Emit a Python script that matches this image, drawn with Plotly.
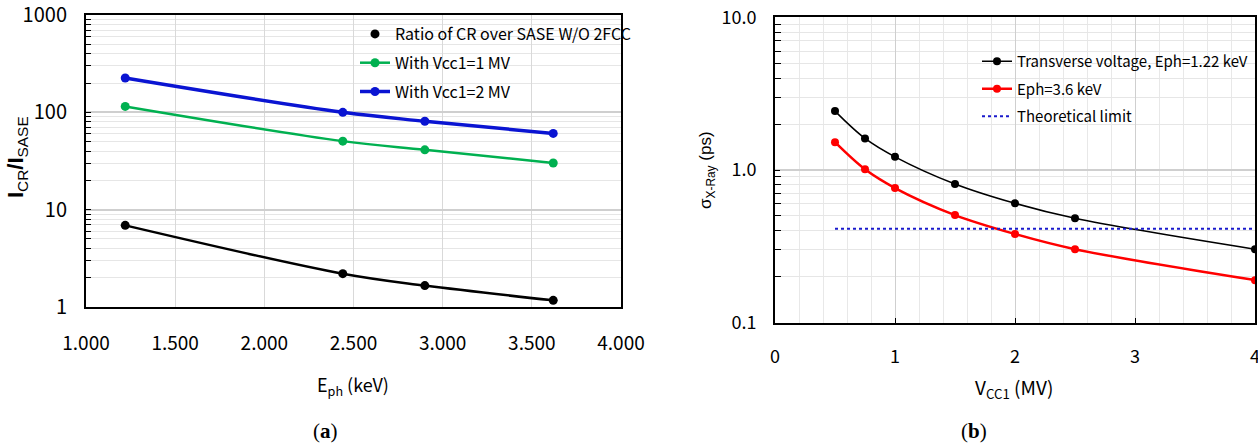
import plotly.graph_objects as go

# ---- panel (a): intensity ratio versus photon energy ----
eph_kev = [1.22, 2.44, 2.90, 3.62]
ratio_no_2fcc = [6.9, 2.2, 1.66, 1.17]
ratio_vcc1_1mv = [115, 50.6, 41.2, 30.2]
ratio_vcc1_2mv = [225, 100, 81, 60.7]

# ---- panel (b): X-ray pulse length versus crab-cavity voltage ----
vcc1_mv = [0.5, 0.75, 1.0, 1.5, 2.0, 2.5, 4.0]
sigma_eph_122 = [2.43, 1.61, 1.22, 0.81, 0.605, 0.483, 0.303]
sigma_eph_36 = [1.52, 1.01, 0.762, 0.507, 0.381, 0.303, 0.19]
limit_x = [0.5, 4.0]
limit_sigma = [0.413, 0.413]

W, H = 1258, 446
NARROW = "Noto Sans CJK SC, Lato, sans-serif"
SANS = "Liberation Sans, Arial, sans-serif"
SERIF = "Liberation Serif, Times New Roman, serif"


def px_x(p):
    return p / W


def px_y(p):
    return (H - p) / H


fig = go.Figure()

# panel (a) traces
fig.add_trace(go.Scatter(
    x=eph_kev, y=ratio_no_2fcc, mode="lines", line=dict(color="black", width=2.5, shape="spline"),
    showlegend=False, hoverinfo="skip", xaxis="x", yaxis="y"))
fig.add_trace(go.Scatter(
    x=eph_kev, y=ratio_no_2fcc, mode="markers", name="Ratio of CR over SASE W/O 2FCC",
    marker=dict(color="black", size=9), xaxis="x", yaxis="y",
    legend="legend", legendgroup="a1"))
fig.add_trace(go.Scatter(
    x=eph_kev, y=ratio_vcc1_1mv, mode="lines+markers", name="With Vcc1=1 MV",
    line=dict(color="#00b050", width=2.5, shape="spline"), marker=dict(color="#00b050", size=9),
    xaxis="x", yaxis="y", legend="legend", legendgroup="a2"))
fig.add_trace(go.Scatter(
    x=eph_kev, y=ratio_vcc1_2mv, mode="lines+markers", name="With Vcc1=2 MV",
    line=dict(color="#0a14d2", width=3.5, shape="spline"), marker=dict(color="#0a14d2", size=9),
    xaxis="x", yaxis="y", legend="legend", legendgroup="a3"))

# panel (b) traces
fig.add_trace(go.Scatter(
    x=vcc1_mv, y=sigma_eph_122, mode="lines+markers", name="Transverse voltage, Eph=1.22 keV",
    line=dict(color="black", width=1.5, shape="spline"), marker=dict(color="black", size=8),
    xaxis="x2", yaxis="y2", legend="legend2", legendgroup="b1"))
fig.add_trace(go.Scatter(
    x=vcc1_mv, y=sigma_eph_36, mode="lines+markers", name="Eph=3.6 keV",
    line=dict(color="#ff0000", width=2.5, shape="spline"), marker=dict(color="#ff0000", size=8),
    xaxis="x2", yaxis="y2", legend="legend2", legendgroup="b2"))
fig.add_trace(go.Scatter(
    x=limit_x, y=limit_sigma, mode="lines", name="Theoretical limit",
    line=dict(color="#1a1acc", width=2, dash="dot"),
    xaxis="x2", yaxis="y2", legend="legend2", legendgroup="b3"))

minor_log_a = [m * 10 ** d for d in range(0, 3) for m in range(2, 10)]
minor_log_b = [m * 10 ** d for d in (-1, 0) for m in range(2, 10)]

axis_common = dict(showline=True, linecolor="black", linewidth=2, mirror=True,
                   zeroline=False, automargin=False, ticklabeloverflow="allow")

fig.update_layout(
    width=W, height=H,
    margin=dict(l=0, r=0, t=0, b=0, autoexpand=False),
    paper_bgcolor="white", plot_bgcolor="white",
    font=dict(family=NARROW, color="black"),
    xaxis=dict(
        domain=[px_x(86), px_x(621)], anchor="y", range=[1, 4], dtick=0.5, tick0=1,
        tickformat=".3f", showgrid=True, gridcolor="#d9d9d9", gridwidth=1,
        ticks="", tickfont=dict(size=19, family=NARROW), ticklabelstandoff=18,
        **axis_common),
    yaxis=dict(
        domain=[px_y(307), px_y(15)], anchor="x", type="log", range=[0, 3],
        tickvals=[1, 10, 100, 1000], ticktext=["1", "10", "100", "1000"],
        showgrid=True, gridcolor="#cfcfcf", gridwidth=1.5,
        ticks="inside", ticklen=5, tickcolor="black",
        tickfont=dict(size=20, family=NARROW), ticklabelstandoff=13,
        minor=dict(tickvals=minor_log_a, ticks="inside", ticklen=5, tickcolor="black",
                   showgrid=True, gridcolor="#e6e6e6", gridwidth=1),
        **axis_common),
    xaxis2=dict(
        domain=[px_x(775), px_x(1255)], anchor="y2", range=[0, 4], dtick=1, tick0=0,
        showgrid=True, gridcolor="#cfcfcf", gridwidth=1,
        ticks="inside", ticklen=5, tickcolor="black",
        tickfont=dict(size=18, family=NARROW), ticklabelstandoff=17,
        minor=dict(dtick=0.2, showgrid=True, gridcolor="#e8e8e8", gridwidth=1),
        **axis_common),
    yaxis2=dict(
        domain=[px_y(322.7), px_y(17.3)], anchor="x2", type="log", range=[-1, 1],
        tickvals=[0.1, 1, 10], ticktext=["0.1", "1.0", "10.0"],
        showgrid=True, gridcolor="#cfcfcf", gridwidth=1.5,
        ticks="inside", ticklen=5, tickcolor="black",
        tickfont=dict(size=18, family=NARROW), ticklabelstandoff=13,
        minor=dict(tickvals=minor_log_b, ticks="inside", ticklen=6, tickcolor="black",
                   showgrid=True, gridcolor="#e6e6e6", gridwidth=1),
        **axis_common),
    legend=dict(
        x=px_x(355), y=px_y(17), xanchor="left", yanchor="top",
        bgcolor="rgba(0,0,0,0)", borderwidth=0, font=dict(size=16, family=NARROW),
        tracegroupgap=5),
    legend2=dict(
        x=px_x(977), y=px_y(45), xanchor="left", yanchor="top",
        bgcolor="rgba(0,0,0,0)", borderwidth=0, font=dict(size=15, family=NARROW),
        tracegroupgap=5),
    annotations=[
        dict(text="E<sub>ph</sub> (keV)", x=px_x(353), y=px_y(385), xref="paper", yref="paper",
             showarrow=False, xanchor="center", yanchor="middle",
             font=dict(size=18, family=NARROW)),
        dict(text="<b>I</b><sub>CR</sub><b>/I</b><sub>SASE</sub>", x=px_x(17), y=px_y(157),
             xref="paper", yref="paper", showarrow=False, textangle=-90,
             xanchor="center", yanchor="middle", font=dict(size=22, family=SANS)),
        dict(text="V<sub>CC1</sub> (MV)", x=px_x(1014), y=px_y(388), xref="paper", yref="paper",
             showarrow=False, xanchor="center", yanchor="middle",
             font=dict(size=19, family=NARROW)),
        dict(text="σ<sub>X-Ray</sub> (ps)", x=px_x(707), y=px_y(170), xref="paper", yref="paper",
             showarrow=False, textangle=-90, xanchor="center", yanchor="middle",
             font=dict(size=17, family=SANS)),
        dict(text="(<b>a</b>)", x=px_x(325), y=px_y(431), xref="paper", yref="paper",
             showarrow=False, xanchor="center", yanchor="middle",
             font=dict(size=21, family=SERIF)),
        dict(text="(<b>b</b>)", x=px_x(974), y=px_y(431), xref="paper", yref="paper",
             showarrow=False, xanchor="center", yanchor="middle",
             font=dict(size=21, family=SERIF)),
    ],
)

fig.write_html("out.html")
